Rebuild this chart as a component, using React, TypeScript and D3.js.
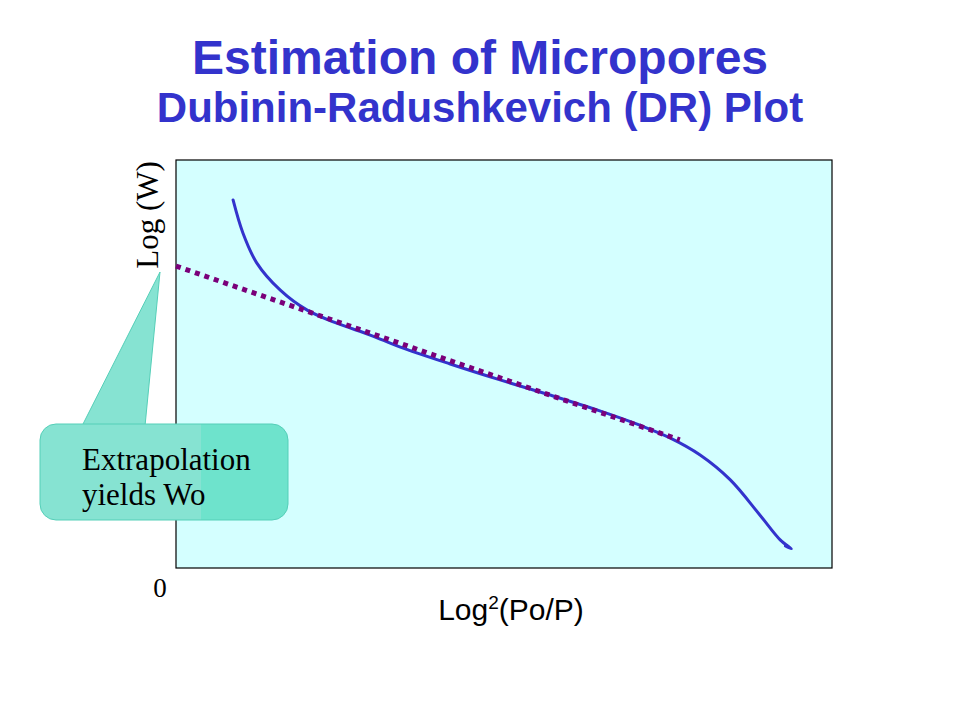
import * as d3 from 'd3'

const curveX = [0.87, 1.02, 1.23, 1.59, 2.0, 2.45, 2.96, 3.41, 4.18, 4.94, 5.7, 6.46, 7.07, 7.53, 7.99, 8.45, 8.9, 9.21, 9.38, 9.29]
const curveY = [9.02, 8.21, 7.48, 6.81, 6.32, 6.0, 5.71, 5.42, 5.0, 4.61, 4.24, 3.85, 3.5, 3.19, 2.77, 2.16, 1.3, 0.69, 0.47, 0.54]

// linear extrapolation to the y axis
const fitX = [0, 7.68]
const fitY = [7.4, 3.14]

const W = 960
const H = 720
const box = { left: 176, top: 160, right: 832, bottom: 568 }

export default function App() {
  const x = d3.scaleLinear().domain([0, 10]).range([box.left, box.right])
  const y = d3.scaleLinear().domain([0, 10]).range([box.bottom, box.top])

  const curve = d3
    .line<number>()
    .x((_, i) => x(curveX[i]))
    .y((_, i) => y(curveY[i]))
    .curve(d3.curveCatmullRom.alpha(0.5))

  const fit = d3
    .line<number>()
    .x((_, i) => x(fitX[i]))
    .y((_, i) => y(fitY[i]))

  const tip = { x: 160, y: 272 }
  const serif = 'Liberation Serif, Times New Roman, serif'
  const sans = 'Liberation Sans, Arial, sans-serif'

  return (
    <svg width={W} height={H} style={{ position: 'absolute', left: 0, top: 0 }}>
      <defs>
        <linearGradient id="callout" x1="0" x2="1" y1="0" y2="0">
          <stop offset="0" stopColor="#86e3d2" />
          <stop offset="0.65" stopColor="#86e3d2" />
          <stop offset="0.65" stopColor="#6ee3cc" />
          <stop offset="1" stopColor="#6ee3cc" />
        </linearGradient>
      </defs>
      <rect width={W} height={H} fill="#fff" />

      <g fontFamily={sans} fontWeight="bold" fill="#3333cc" textAnchor="middle">
        <text x={480} y={74} fontSize={48}>Estimation of Micropores</text>
        <text x={480} y={122} fontSize={42}>Dubinin-Radushkevich (DR) Plot</text>
      </g>

      <rect
        x={box.left}
        y={box.top}
        width={box.right - box.left}
        height={box.bottom - box.top}
        fill="#d4ffff"
        stroke="#000"
        strokeWidth={1.2}
      />

      <path d={curve(curveX) ?? ''} fill="none" stroke="#3333cc" strokeWidth={3} strokeLinecap="round" />
      <path d={fit(fitX) ?? ''} fill="none" stroke="#7a007a" strokeWidth={5} strokeDasharray="5 5" />

      {/* callout */}
      <path
        d={`M82,426 L${tip.x},${tip.y} L145,426 Z`}
        fill="#86e3d2"
        stroke="#55cfb8"
        strokeWidth={1}
      />
      <rect x={40} y={424} width={248} height={96} rx={16} fill="url(#callout)" stroke="#55cfb8" strokeWidth={1} />
      <g fontFamily={serif} fontSize={31} fill="#000">
        <text x={82} y={470}>Extrapolation</text>
        <text x={82} y={505}>yields Wo</text>
      </g>

      <text
        transform="translate(158,215) rotate(-90)"
        textAnchor="middle"
        fontFamily={serif}
        fontSize={31}
      >
        Log (W)
      </text>
      <text x={160} y={597} textAnchor="middle" fontFamily={serif} fontSize={27}>
        0
      </text>
      <text x={511} y={620} textAnchor="middle" fontFamily={sans} fontSize={30}>
        Log<tspan fontSize={19} dy={-11}>2</tspan>
        <tspan dy={11}>(Po/P)</tspan>
      </text>
    </svg>
  )
}
